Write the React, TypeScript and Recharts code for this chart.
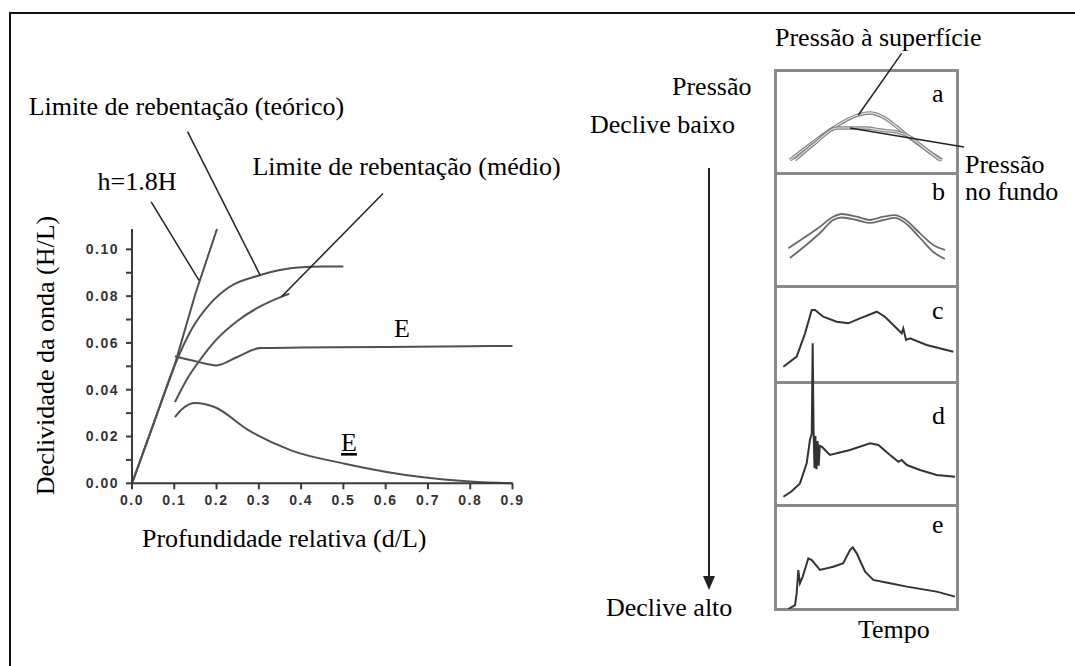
import { LineChart, Line, XAxis, YAxis, ReferenceLine } from 'recharts';

const SERIF = '"Liberation Serif", "Times New Roman", serif';
const CURVE = '#505050';
const AXIS = '#3a3a3a';
const BOX = '#8a8a8a';

// left plot: relative depth (d/L) vs wave steepness (H/L)
const depthTicks = [0, 0.1, 0.2, 0.3, 0.4, 0.5, 0.6, 0.7, 0.8, 0.9];
const steepTicks = [0, 0.01, 0.02, 0.03, 0.04, 0.05, 0.06, 0.07, 0.08, 0.09, 0.1];

const limitH18 = [
  { x: 0, y: 0 }, { x: 0.05, y: 0.025 }, { x: 0.1, y: 0.05 }, { x: 0.15, y: 0.081 }, { x: 0.201, y: 0.1087 },
];
const limitTheory = [
  { x: 0, y: 0 }, { x: 0.05, y: 0.025 }, { x: 0.1, y: 0.05 }, { x: 0.14, y: 0.0655 }, { x: 0.186, y: 0.077 },
  { x: 0.231, y: 0.084 }, { x: 0.3, y: 0.0888 }, { x: 0.35, y: 0.0912 }, { x: 0.4, y: 0.0924 },
  { x: 0.45, y: 0.0927 }, { x: 0.5, y: 0.0927 },
];
const limitMean = [
  { x: 0.1015, y: 0.0347 }, { x: 0.13, y: 0.0445 }, { x: 0.16, y: 0.0525 }, { x: 0.2, y: 0.0615 },
  { x: 0.25, y: 0.0695 }, { x: 0.3, y: 0.0753 }, { x: 0.35, y: 0.0795 }, { x: 0.372, y: 0.081 },
];
const curveE = [
  { x: 0.1015, y: 0.0543 }, { x: 0.1586, y: 0.0518 }, { x: 0.1994, y: 0.0504 }, { x: 0.2493, y: 0.054 },
  { x: 0.3036, y: 0.0578 }, { x: 0.4, y: 0.058 }, { x: 0.6, y: 0.0583 }, { x: 0.8, y: 0.0586 }, { x: 0.9, y: 0.0587 },
];
const curveELow = [
  { x: 0.1015, y: 0.0283 }, { x: 0.12, y: 0.032 }, { x: 0.1495, y: 0.0343 }, { x: 0.1949, y: 0.0326 },
  { x: 0.2764, y: 0.0226 }, { x: 0.3761, y: 0.0141 }, { x: 0.503, y: 0.0084 }, { x: 0.684, y: 0.0027 },
  { x: 0.8, y: 0.0008 }, { x: 0.9, y: 0 },
];

// leader lines of the left plot (data coords)
const leaderH18 = [{ x: 0.0453, y: 0.1203 }, { x: 0.1586, y: 0.0867 }];
const leaderTheory = [{ x: 0.1314, y: 0.1503 }, { x: 0.3036, y: 0.0888 }];
const leaderMean = [{ x: 0.5937, y: 0.1239 }, { x: 0.3535, y: 0.0797 }];

// right panels: pressure against time, t and v in percent of each box
const waveASurface = [
  { t: 8.2, v: 12.6 }, { t: 20.3, v: 29 }, { t: 31.9, v: 43.7 }, { t: 45.6, v: 56.3 }, { t: 52.2, v: 58.3 },
  { t: 59.3, v: 54.4 }, { t: 67, v: 44.7 }, { t: 74.2, v: 34 }, { t: 83.5, v: 22.3 }, { t: 91.8, v: 12.6 },
];
const waveABottom = [
  { t: 11, v: 12.6 }, { t: 22, v: 29 }, { t: 34, v: 43.7 }, { t: 50.5, v: 43.7 }, { t: 57.7, v: 41.7 },
  { t: 67, v: 39.8 }, { t: 74.2, v: 35 }, { t: 81.3, v: 25.2 }, { t: 90.7, v: 12.6 },
];
const waveBSurface = [
  { t: 7.3, v: 33.4 }, { t: 15.5, v: 42.2 }, { t: 24.7, v: 52.5 }, { t: 32, v: 61.3 }, { t: 36.6, v: 63.7 },
  { t: 44.9, v: 61.3 }, { t: 52.2, v: 58.4 }, { t: 59.5, v: 61.3 }, { t: 65.9, v: 62.8 }, { t: 70.5, v: 59.9 },
  { t: 79.7, v: 46.6 }, { t: 87, v: 36.3 }, { t: 93.4, v: 31.9 },
];
const waveBBottom = [
  { t: 8.2, v: 24.8 }, { t: 16.5, v: 35.4 }, { t: 24.7, v: 46.9 }, { t: 32, v: 58.4 }, { t: 36.6, v: 60.6 },
  { t: 44.9, v: 58.4 }, { t: 52.2, v: 55.8 }, { t: 59.5, v: 58.4 }, { t: 65.9, v: 60.2 }, { t: 70.5, v: 57.1 },
  { t: 79.7, v: 42.5 }, { t: 87, v: 30.1 }, { t: 93.4, v: 23.9 },
];
const waveC = [
  { t: 4.6, v: 15.9 }, { t: 11.9, v: 26.4 }, { t: 16.5, v: 50.7 }, { t: 20.2, v: 75 }, { t: 22, v: 75 },
  { t: 26.5, v: 68 }, { t: 33.9, v: 62.8 }, { t: 40.3, v: 61.1 }, { t: 46.7, v: 66.3 }, { t: 55.9, v: 73.2 },
  { t: 60.4, v: 68 }, { t: 67.8, v: 54.2 }, { t: 69.6, v: 50.7 }, { t: 70.5, v: 55.9 }, { t: 72, v: 43.8 },
  { t: 74.2, v: 45.5 }, { t: 83.3, v: 38.5 }, { t: 98, v: 31.6 },
];
const waveD = [
  { t: 4.6, v: 6.7 }, { t: 9, v: 11 }, { t: 13.7, v: 17.6 }, { t: 17.4, v: 33.9 }, { t: 19.2, v: 52.8 },
  { t: 20.2, v: 58 }, { t: 20.7, v: 131.5 }, { t: 21.2, v: 60 }, { t: 21.7, v: 30 }, { t: 22.2, v: 56 },
  { t: 22.8, v: 29 }, { t: 23.4, v: 52 }, { t: 24, v: 32 }, { t: 24.6, v: 48 }, { t: 25.7, v: 47.4 },
  { t: 30.2, v: 40.7 }, { t: 33.9, v: 42 }, { t: 41.2, v: 44.7 }, { t: 52.2, v: 50.1 }, { t: 56.8, v: 48.8 },
  { t: 63.2, v: 40.7 }, { t: 67.8, v: 35.2 }, { t: 69.6, v: 36.6 }, { t: 72.4, v: 32.5 }, { t: 79.7, v: 28.5 },
  { t: 88.8, v: 24.4 }, { t: 98.9, v: 23 },
];
const waveE = [
  { t: 7.3, v: 0 }, { t: 11, v: 3.8 }, { t: 11.9, v: 15 }, { t: 12.8, v: 37.5 }, { t: 13.7, v: 24.7 },
  { t: 15.2, v: 31 }, { t: 18.3, v: 48.7 }, { t: 20.2, v: 47.1 }, { t: 24.7, v: 37.5 }, { t: 32, v: 40.7 },
  { t: 37.5, v: 44 }, { t: 41.2, v: 56.7 }, { t: 42.7, v: 59.3 }, { t: 44.9, v: 53.5 }, { t: 49.5, v: 35.9 },
  { t: 54, v: 28 }, { t: 63.2, v: 24.7 }, { t: 72.4, v: 21.5 }, { t: 88.8, v: 16.7 }, { t: 98.9, v: 11.9 },
];
// leader lines of box a (x = time %, y = pressure %)
const leaderSurface = [{ x: 69.6, y: 116.2 }, { x: 45.8, y: 56.3 }];
const leaderBottom = [{ x: 103.8, y: 25.2 }, { x: 41.2, y: 43.7 }];

const BOX_LEFT = 775;
const BOX_W = 182;
const edges = [70, 173, 286, 382, 505, 609];

function WaveBox({ top, height, boxTop, boxBottom, width = BOX_W, children }: any) {
  const boxH = boxBottom - boxTop;
  return (
    <div style={{ position: 'absolute', left: BOX_LEFT, top }}>
      <LineChart width={width} height={height} margin={{ top: 0, right: 0, bottom: 0, left: 0 }}>
        <XAxis type="number" dataKey="t" domain={[0, (100 * width) / BOX_W]} hide />
        <YAxis type="number" domain={[0, (100 * height) / boxH]} hide />
        {children}
      </LineChart>
    </div>
  );
}

const wave = (data: any, color: string, w = 2, type: any = 'linear') => (
  <Line data={data} dataKey="v" type={type} stroke={color} strokeWidth={w} dot={false} isAnimationActive={false} />
);

export default function App() {
  const tickFont = { fontSize: 14, fontWeight: 700, fill: '#333', fontFamily: 'Arial, "Liberation Sans"', letterSpacing: 1.5 };
  return (
    <div style={{ position: 'absolute', left: 0, top: 0, width: 1075, height: 666, background: '#fff', overflow: 'hidden' }}>
      <div style={{ position: 'absolute', left: 8.5, top: 11.5, width: 1200, height: 800, borderTop: '2px solid #111', borderLeft: '2px solid #111' }} />

      <div style={{ position: 'absolute', left: 0, top: 0 }}>
        <LineChart width={600} height={666} margin={{ top: 229, right: 87.5, bottom: 152.7, left: 87 }}>
          <XAxis type="number" dataKey="x" domain={[0, 0.9]} ticks={depthTicks} interval={0} height={30}
            stroke={AXIS} strokeWidth={2} tickSize={6} tickMargin={6} tick={tickFont}
            tickFormatter={(v: number) => v.toFixed(1)} />
          <YAxis type="number" domain={[0, 0.1087]} ticks={steepTicks} interval={0} width={45}
            stroke={AXIS} strokeWidth={2} tickSize={6} tickMargin={7} tick={tickFont}
            tickFormatter={(v: number) => (Math.round(v * 100) % 2 === 0 ? v.toFixed(2) : '')} />
          <XAxis xAxisId="top" orientation="top" type="number" domain={[0, 0.9]} height={0} tick={false} tickLine={false} stroke={AXIS} strokeWidth={2} />
          <YAxis yAxisId="right" orientation="right" type="number" domain={[0, 0.1087]} width={0} tick={false} tickLine={false} stroke={AXIS} strokeWidth={2} />
          <Line data={limitH18} dataKey="y" type="linear" stroke={CURVE} strokeWidth={2} dot={false} isAnimationActive={false} />
          <Line data={limitTheory} dataKey="y" type="monotone" stroke={CURVE} strokeWidth={2} dot={false} isAnimationActive={false} />
          <Line data={limitMean} dataKey="y" type="monotone" stroke={CURVE} strokeWidth={2} dot={false} isAnimationActive={false} />
          <Line data={curveE} dataKey="y" type="monotone" stroke={CURVE} strokeWidth={2} dot={false} isAnimationActive={false} />
          <Line data={curveELow} dataKey="y" type="monotone" stroke={CURVE} strokeWidth={2} dot={false} isAnimationActive={false} />
          <ReferenceLine segment={leaderH18} stroke="#222" strokeWidth={1.5} ifOverflow="visible" />
          <ReferenceLine segment={leaderTheory} stroke="#222" strokeWidth={1.5} ifOverflow="visible" />
          <ReferenceLine segment={leaderMean} stroke="#222" strokeWidth={1.5} ifOverflow="visible" />
        </LineChart>
      </div>

      {edges.slice(0, -1).map((e, i) => (
        <div key={i} style={{ position: 'absolute', left: BOX_LEFT - 1.5, top: e - 1.5, width: BOX_W + 3, height: edges[i + 1] - e + 3, boxSizing: 'border-box', border: `3px solid ${BOX}` }} />
      ))}

      <WaveBox top={40} height={133} boxTop={70} boxBottom={173} width={195}>
        {wave(waveASurface, '#808080', 3.4, 'monotone')}
        {wave(waveASurface, '#e6e6e6', 1.2, 'monotone')}
        {wave(waveABottom, '#808080', 3.4, 'monotone')}
        {wave(waveABottom, '#e6e6e6', 1.2, 'monotone')}
        <ReferenceLine segment={leaderSurface} stroke="#222" strokeWidth={1.5} ifOverflow="visible" />
        <ReferenceLine segment={leaderBottom} stroke="#222" strokeWidth={1.5} ifOverflow="visible" />
      </WaveBox>
      <WaveBox top={173} height={113} boxTop={173} boxBottom={286}>
        {wave(waveBSurface, '#6a6a6a', 1.8, 'monotone')}
        {wave(waveBBottom, '#6a6a6a', 1.8, 'monotone')}
      </WaveBox>
      <WaveBox top={286} height={96} boxTop={286} boxBottom={382}>
        {wave(waveC, '#333', 2)}
      </WaveBox>
      <WaveBox top={330} height={175} boxTop={382} boxBottom={505}>
        {wave(waveD, '#333', 2)}
      </WaveBox>
      <WaveBox top={505} height={104} boxTop={505} boxBottom={609}>
        {wave(waveE, '#333', 2)}
      </WaveBox>

      <svg width={1075} height={666} style={{ position: 'absolute', left: 0, top: 0, pointerEvents: 'none', fontFamily: SERIF }}
        fontSize={26} fill="#000">
        <text x={28.7} y={115}>Limite de rebentação (teórico)</text>
        <text x={97.5} y={190}>h=1.8H</text>
        <text x={252.4} y={175}>Limite de rebentação (médio)</text>
        <text x={402} y={337} textAnchor="middle">E</text>
        <text x={349} y={451} textAnchor="middle" style={{ textDecoration: 'underline' }}>E</text>
        <text x={142} y={547}>Profundidade relativa (d/L)</text>
        <text transform="translate(53.5,355.5) rotate(-90)" textAnchor="middle">Declividade da onda (H/L)</text>

        <text x={775} y={46}>Pressão à superfície</text>
        <text x={672} y={95}>Pressão</text>
        <text x={590} y={133}>Declive baixo</text>
        <text x={606} y={616}>Declive alto</text>
        <text x={858} y={638}>Tempo</text>
        <text x={965} y={173}>Pressão</text>
        <text x={965} y={200}>no fundo</text>
        <text x={932} y={102}>a</text>
        <text x={932} y={200}>b</text>
        <text x={932} y={319}>c</text>
        <text x={932} y={424}>d</text>
        <text x={932} y={533}>e</text>

        <line x1={709} y1={168} x2={709} y2={578} stroke="#222" strokeWidth={2} />
        <polygon points="703,576 715,576 709,590" fill="#222" />
      </svg>
    </div>
  );
}
